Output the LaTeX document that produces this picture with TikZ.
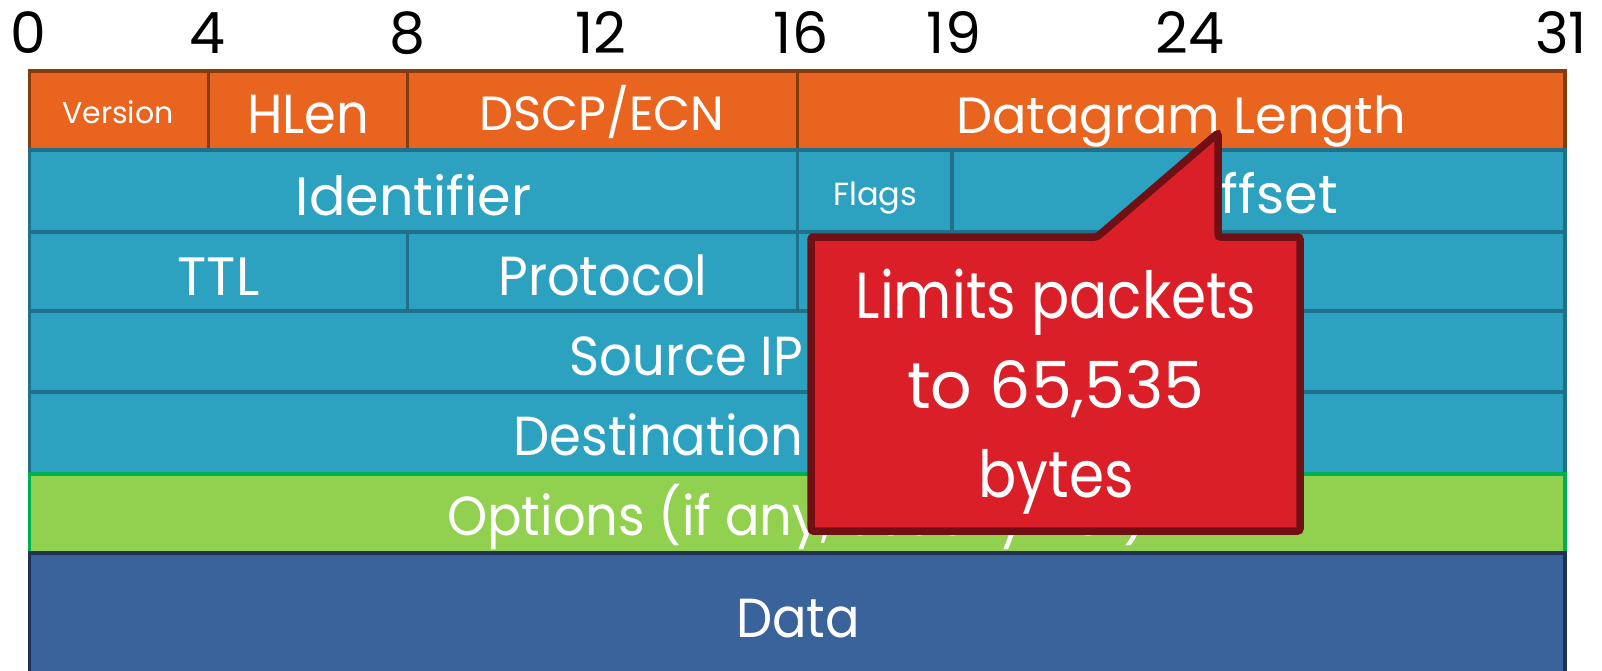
\documentclass[tikz,border=0pt]{standalone}
\usepackage{fontspec}
\setmainfont{Poppins}
\newfontfamily\fieldfont{Poppins}
\newfontfamily\slimfont{Poppins}[FakeStretch=0.93]
\newfontfamily\notefont{Poppins}[FakeStretch=0.87]
\definecolor{orfill}{HTML}{E9641E}
\definecolor{orline}{HTML}{843C0C}
\definecolor{tealfill}{HTML}{2CA2C0}
\definecolor{tealline}{HTML}{1F7088}
\definecolor{greenfill}{HTML}{92D050}
\definecolor{greenline}{HTML}{00B050}
\definecolor{datafill}{HTML}{39639A}
\definecolor{dataline}{HTML}{1F3250}
\definecolor{callfill}{HTML}{DA1F28}
\definecolor{callline}{HTML}{701015}
\begin{document}
\begin{tikzpicture}[x=1pt,y=-1pt,
  cellbox/.style={line width=3.5pt},
  orcell/.style={cellbox, fill=orfill, draw=orline},
  tealcell/.style={cellbox, fill=tealfill, draw=tealline},
  greencell/.style={cellbox, fill=greenfill, draw=greenline},
  datacell/.style={cellbox, fill=datafill, draw=dataline},
  field/.style={text=white, anchor=base, inner sep=0pt, font=\fieldfont\fontsize{54}{60}\selectfont},
  slimfield/.style={field, font=\slimfont\fontsize{55}{60}\selectfont},
  smallfield/.style={field, font=\fieldfont\fontsize{30}{34}\selectfont},
  bitnum/.style={text=black, anchor=base, inner sep=0pt, font=\fieldfont\fontsize{57}{60}\selectfont},
  calltext/.style={text=white, anchor=base, inner sep=0pt, font=\notefont\fontsize{65}{70}\selectfont}
]
\useasboundingbox (0,0) rectangle (1602,670);

% bit positions
\node[bitnum] (b0)  at (28,53)   {0};
\node[bitnum] (b4)  at (207,53)  {4};
\node[bitnum] (b8)  at (407.5,53) {8};
\node[bitnum] (b12) at (601,53)  {12};
\node[bitnum] (b16) at (801,53)  {16};
\node[bitnum] (b19) at (954,53)  {19};
\node[bitnum] (b24) at (1190,53) {24};
\node[bitnum] (b31) at (1561,53) {31};

% row 1
\path[orcell] (29.5,71) rectangle (208.5,150);
\path[orcell] (208.5,71) rectangle (407.5,150);
\path[orcell] (407.5,71) rectangle (797.5,150);
\path[orcell] (797.5,71) rectangle (1565,150);
\node[smallfield] (version) at (118,123) {Version};
\node[slimfield] (hlen) at (308,133) {HLen};
\node[field, font=\fieldfont\fontsize{48}{52}\selectfont] (dscp) at (602,130) {DSCP/ECN};
\node[field, font=\fieldfont\fontsize{51}{56}\selectfont] (dlen) at (1181,133) {Datagram Length};

% row 2
\path[tealcell] (29.5,150) rectangle (797.5,232);
\path[tealcell] (797.5,150) rectangle (952,232);
\path[tealcell] (952,150) rectangle (1565,232);
\node[field] (ident) at (413.5,215) {Identifier};
\node[smallfield, font=\fieldfont\fontsize{32}{36}\selectfont] (flags) at (875,205) {Flags};
\node[field] (offset) at (1258,213) {Offset};

% row 3
\path[tealcell] (29.5,232) rectangle (407.5,311);
\path[tealcell] (407.5,232) rectangle (797.5,311);
\path[tealcell] (797.5,232) rectangle (1565,311);
\node[field] (ttl) at (218.5,295) {TTL};
\node[slimfield] (proto) at (603,295) {Protocol};

% rows 4 and 5
\path[tealcell] (29.5,311) rectangle (1565,392);
\node[slimfield] (srcip) at (797,375) {Source IP Address};
\path[tealcell] (29.5,392) rectangle (1565,474);
\node[slimfield] (dstip) at (797,455) {Destination IP Address};

% options
\path[greencell] (29.5,474) rectangle (1565,553);
\node[slimfield] (opts) at (797,535) {Options (if any, usually not)};

% payload
\path[datacell] (29.5,553) rectangle (1565,690);
\node[slimfield] (data) at (798,637) {Data};

% callout on the length field
\coordinate (tip) at (1218,133);
\draw[line width=7.5pt, draw=callline, fill=callfill, rounded corners=2.5pt]
  (811,237) -- (1097,237) -- (tip) -- (1218,237) -- (1300,237)
  -- (1300,531) -- (811,531) -- cycle;
\node[calltext] (c1) at (1056,318) {Limits packets};
\node[calltext, font=\fieldfont\fontsize{65}{70}\selectfont] (c2) at (1056,408) {to 65,535};
\node[calltext] (c3) at (1056,497) {bytes};
\end{tikzpicture}
\end{document}
